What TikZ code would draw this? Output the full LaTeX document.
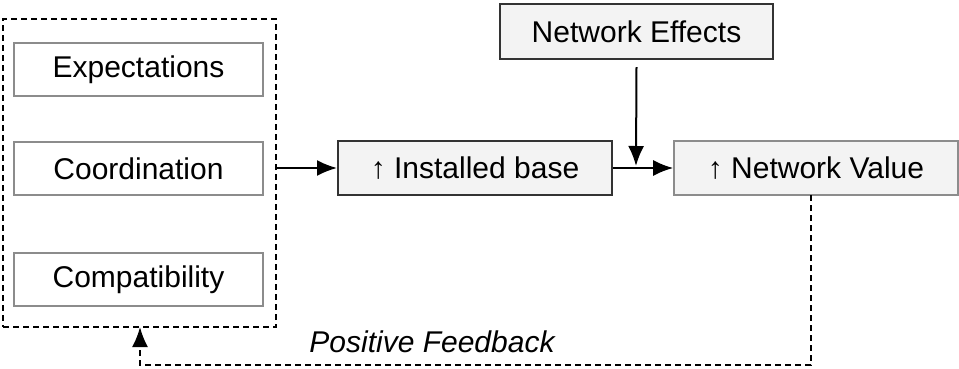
\documentclass[tikz,border=0pt]{standalone}
\usepackage{fontspec}
\setmainfont{Liberation Sans}
\usetikzlibrary{arrows.meta}
\definecolor{boxgray}{HTML}{8C8C8C}
\definecolor{boxfill}{HTML}{F3F3F3}
\begin{document}
\begin{tikzpicture}[x=1pt,y=-1pt,
  lbl/.style={font=\fontsize{30}{34}\selectfont},
  graybox/.style={draw=boxgray,line width=1.6pt,fill=white,minimum width=249pt,minimum height=53pt,lbl},
  darkbox/.style={draw=black!80,line width=2pt,fill=boxfill,minimum height=54pt,lbl},
  tip/.style={-{Latex[length=20pt,width=16pt]}},
  conn/.style={line width=2pt,tip},
  dashline/.style={line width=2pt,dash pattern=on 6pt off 4pt}]
\useasboundingbox (0,0) rectangle (959,368);
\node[draw,dashline,minimum width=273pt,minimum height=308pt] (grp) at (139.5,173) {};
\node[graybox] (exp) at (138.5,69.5) {Expectations};
\node[graybox] (coo) at (138.5,168.5) {Coordination};
\node[graybox] (com) at (138.5,279.5) {Compatibility};
\node[darkbox,minimum width=274pt] (ib) at (475,168) {↑ Installed base};
\node[darkbox,minimum width=273pt,minimum height=55pt] (ne) at (636.5,31.5) {Network Effects};
\node[draw=boxgray,line width=1.6pt,fill=boxfill,minimum width=284pt,minimum height=54pt,lbl] (nv) at (816,168) {↑ Network Value};
\draw[conn] (grp.east |- ib.west) -- (ib.west);
\draw[conn] (ib.east) -- (nv.west);
\coordinate (join) at (636,166);
\draw[conn] (ne.south) ++(0,7) -- (join);
\coordinate (c1) at (811,365);
\coordinate (c2) at (140,365);
\draw[dashline,tip] (811,195) -- (c1) -- (c2) -- (140,327);
\node[font=\fontsize{30}{34}\selectfont\itshape] (pf) at (432,342) {Positive Feedback};
\end{tikzpicture}
\end{document}
